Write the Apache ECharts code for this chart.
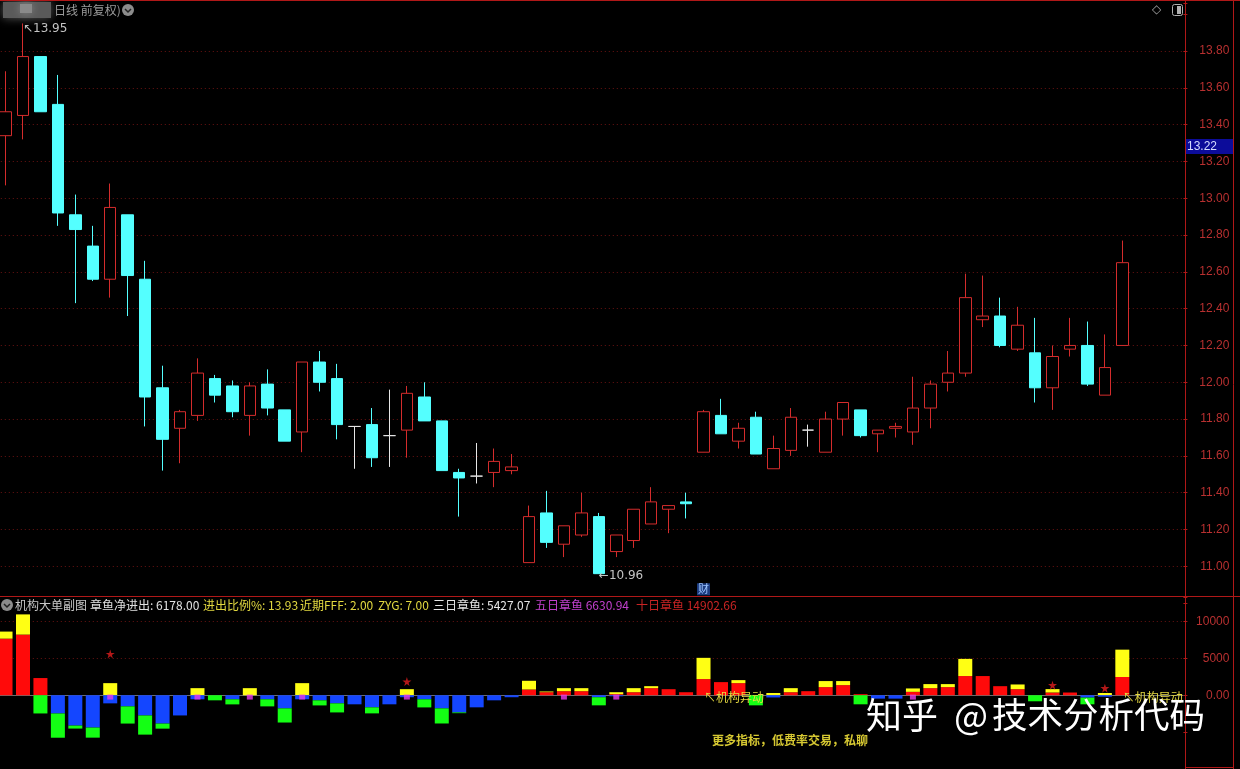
<!DOCTYPE html>
<html><head><meta charset="utf-8">
<script src="https://cdn.jsdelivr.net/npm/echarts@6/dist/echarts.min.js"></script>
<style>html,body{margin:0;padding:0;background:#000;}#c{width:1240px;height:769px;}</style>
</head><body><div id="c"></div>
<script>
const categories = ['1','2','3','4','5','6','7','8','9','10','11','12','13','14','15','16','17','18','19','20',
 '21','22','23','24','25','26','27','28','29','30','31','32','33','34','35','36','37','38','39','40',
 '41','42','43','44','45','46','47','48','49','50','51','52','53','54','55','56','57','58','59','60',
 '61','62','63','64','65','66','67','68'];
const opens  = [13.34,13.45,13.77,13.51,12.91,12.74,12.56,12.91,12.56,11.97,11.75,11.82,12.02,11.98,11.82,11.99,11.85,11.73,12.11,12.02,11.76,11.77,11.71,11.74,11.92,11.79,11.51,11.49,11.51,11.52,11.02,11.29,11.12,11.17,11.27,11.08,11.14,11.23,11.31,11.35,11.62,11.82,11.68,11.81,11.53,11.63,11.74,11.62,11.80,11.85,11.72,11.75,11.73,11.86,12.00,12.05,12.34,12.36,12.18,12.16,11.97,12.18,12.20,11.93,12.20];
const closes = [13.47,13.77,13.47,12.92,12.83,12.56,12.95,12.58,11.92,11.69,11.84,12.05,11.93,11.84,11.98,11.86,11.68,12.11,12.00,11.77,11.76,11.59,11.71,11.94,11.79,11.52,11.48,11.49,11.57,11.54,11.27,11.13,11.22,11.29,10.96,11.17,11.31,11.35,11.33,11.34,11.84,11.72,11.75,11.61,11.64,11.81,11.74,11.80,11.89,11.71,11.74,11.76,11.86,11.99,12.05,12.46,12.36,12.20,12.31,11.97,12.14,12.20,11.99,12.08,12.65];
const lows   = [13.07,13.32,13.47,12.85,12.43,12.55,12.46,12.36,11.76,11.52,11.56,11.79,11.89,11.81,11.71,11.82,11.68,11.62,11.95,11.69,11.53,11.54,11.54,11.59,11.79,11.52,11.27,11.45,11.43,11.50,11.02,11.10,11.05,11.16,10.96,11.05,11.10,11.23,11.18,11.26,11.62,11.72,11.64,11.61,11.53,11.60,11.65,11.62,11.71,11.70,11.62,11.70,11.66,11.75,11.95,12.03,12.30,12.19,12.17,11.89,11.85,12.14,11.98,11.93,12.20];
const highs  = [13.69,13.95,13.77,13.67,13.02,12.85,13.08,12.91,12.66,12.09,11.85,12.13,12.04,12.01,12.00,12.07,11.85,12.11,12.17,12.10,11.76,11.86,11.96,11.98,12.00,11.79,11.53,11.67,11.64,11.61,11.33,11.41,11.22,11.40,11.29,11.17,11.31,11.43,11.33,11.40,11.85,11.91,11.78,11.84,11.71,11.86,11.77,11.84,11.89,11.85,11.74,11.78,12.03,12.01,12.17,12.59,12.58,12.46,12.41,12.35,12.20,12.35,12.33,12.26,12.77];

const redVals = [7670,8220,2330,0,0,0,0,0,0,0, 0,0,0,0,0,0,0,0,0,0, 0,0,0,0,0,0,0,0,0,0,
 780,410,550,550,0,140,410,960,820,410, 2190,1780,1640,0,0,410,550,1100,1370,140,
 0,0,460,960,1100,2600,2600,1230,820,0, 370,370,0,0,2470];
const yellowVals = [960,2740,0,0,0,0,1640,0,0,0, 0,960,0,0,960,0,0,1640,0,0, 0,0,0,820,0,0,0,0,0,0,
 1180,100,410,410,0,270,550,270,0,0, 2880,0,410,0,300,550,0,820,550,0,
 0,0,460,550,410,2330,0,0,640,0, 460,0,0,300,3710];
const blueVals = [0,0,0,-2470,-4110,-4380,-1100,-1510,-2740,-3840, -2740,-550,0,-550,0,-550,-1780,-550,-690,-1100,
 -1230,-1640,-1230,-270,-550,-1780,-2330,-1640,-690,-270, 0,0,0,0,-270,-140,0,0,0,0,
 0,0,0,0,-300,0,0,0,0,0, -460,-460,0,0,0,0,0,0,0,0, 0,0,-320,-200,0];
const greenVals = [0,0,-2470,-3290,-410,-1370,0,-2330,-2600,-690, 0,0,-690,-690,0,-960,-1920,0,-690,-1230,
 0,-820,0,0,-1100,-2050,-100,0,0,0, 0,0,0,0,-1100,0,0,0,0,0,
 0,0,0,-1370,0,0,0,0,0,-1230, 0,0,0,0,0,0,0,0,0,-820, 0,0,-910,0,0];
const starIdx = [6,23,60,63];
const starVals = [5600,1850,1370,960];
const pinkIdx = [6,11,14,17,23,32,35,52];
const pinkVals = [-250,-250,-250,-250,-250,-250,-250,-250];
const alertIdx = [40,64];
const alertVals = [-280,-280];
const priceTicks = [11.00,11.20,11.40,11.60,11.80,12.00,12.20,12.40,12.60,12.80,13.00,13.20,13.40,13.60,13.80];
const subTicks = [5000,10000];
const maxIdx = 1, minIdx = 34, caiIdx = 40;

const RED = '#d42c2c', CYAN = '#54ffff', AXR = '#b83030', FRAME = '#b01818', GRIDC = '#6a1212';
const cjk = '"Noto Sans CJK SC", sans-serif';

const chart = echarts.init(document.getElementById('c'), null, {renderer:'canvas'});
const candleData = opens.map((o,i)=>[o, closes[i], lows[i], highs[i]]);
const STAR = 'path://M50,0 L61,35 L98,35 L68,57 L79,91 L50,70 L21,91 L32,57 L2,35 L39,35 Z';

function txt(x, y, text, fill, size, family, weight) {
  return {type:'text', x:x, y:y, z:70, silent:true, style:{text:text, fill:fill, fontSize:size||12,
    fontFamily:family||cjk, fontWeight:weight||'normal', verticalAlign:'middle', align:'left'}};
}
function ln(x1,y1,x2,y2,c){ return {type:'line', z:60, silent:true, shape:{x1:x1,y1:y1,x2:x2,y2:y2}, style:{stroke:c||FRAME, lineWidth:1}}; }
function icon(cx, cy){
  return [{type:'circle', z:50, shape:{cx:cx, cy:cy, r:6}, style:{fill:'#8c8c8c'}},
          {type:'polyline', z:51, shape:{points:[[cx-3,cy-1],[cx,cy+2],[cx+3,cy-1]]}, style:{stroke:'#222', lineWidth:1.5, fill:null}}];
}

const option = {
  backgroundColor:'#000',
  animation:false,
  grid:[
    {left:-3.2, right:56.6, top:3, bottom:165.9, outerBoundsMode:'none', containLabel:false},
    {left:-3.2, right:56.6, top:597.5, bottom:0, outerBoundsMode:'none', containLabel:false}
  ],
  xAxis:[
    {type:'category', gridIndex:0, data:categories, boundaryGap:true, axisLine:{show:false}, axisTick:{show:false}, axisLabel:{show:false}, splitLine:{show:false}},
    {type:'category', gridIndex:1, data:categories, boundaryGap:true, axisLine:{show:false}, axisTick:{show:false}, axisLabel:{show:false}, splitLine:{show:false}}
  ],
  yAxis:[
    {type:'value', gridIndex:0, position:'right', min:10.8, max:14.061, interval:0.2,
     axisLine:{show:false}, splitLine:{show:false},
     axisTick:{show:true, length:4, lineStyle:{color:FRAME}},
     axisLabel:{color:AXR, fontSize:12, fontFamily:'"Liberation Sans", Arial, sans-serif', align:'right', margin:46,
       formatter:function(v){ return (v > 10.9 && v < 13.9) ? v.toFixed(2) : ''; }}},
    {type:'value', gridIndex:1, position:'right', min:-10000, max:13250, interval:5000,
     axisLine:{show:false}, splitLine:{show:false},
     axisTick:{show:true, length:4, lineStyle:{color:FRAME}},
     axisLabel:{color:AXR, fontSize:12, fontFamily:'"Liberation Sans", Arial, sans-serif', align:'right', margin:46,
       formatter:function(v){ if (Math.abs(v) < 1e-6) return '0.00'; return (v === 5000 || v === 10000) ? String(v) : ''; }}}
  ],
  series:[
    {type:'candlestick', name:'K', xAxisIndex:0, yAxisIndex:0, data:candleData, barWidth:12,
     itemStyle:{color:'#000', color0:CYAN, borderColor:RED, borderColor0:CYAN, borderColorDoji:'#e6e6e6', borderWidth:1},
     markLine:{silent:true, symbol:'none', z:1, label:{show:false},
       lineStyle:{color:GRIDC, type:[1,3], width:1},
       data: priceTicks.map(v=>({yAxis:v}))},
     markPoint:{silent:true, symbol:'circle', symbolSize:0,
       data:[
         {coord:[categories[maxIdx], highs[maxIdx]], value:highs[maxIdx],
          label:{show:true, position:'right', distance:0, offset:[0,5], color:'#c4c4c4', fontSize:12, fontFamily:'"DejaVu Sans", sans-serif',
            formatter:function(p){ return '↖' + p.value.toFixed(2); }}},
         {coord:[categories[minIdx], lows[minIdx]], value:lows[minIdx],
          label:{show:true, position:'right', distance:0, offset:[0,2], color:'#c4c4c4', fontSize:12, fontFamily:'"DejaVu Sans", sans-serif',
            formatter:function(p){ return '←' + p.value.toFixed(2); }}},
         {coord:[categories[caiIdx], 10.875], value:0,
          label:{show:true, position:'inside', color:'#9cc4ff', backgroundColor:'#1c3c80', padding:[1,1,0,1], fontSize:11, fontFamily:cjk,
            formatter:'财'}}
       ]}
    },
    {type:'bar', name:'red', xAxisIndex:1, yAxisIndex:1, stack:'a', data:redVals, barWidth:14, itemStyle:{color:'#ff0a0a'},
     markLine:{silent:true, symbol:'none', z:1, label:{show:false},
       data:[ ...subTicks.map(v=>({yAxis:v, lineStyle:{color:GRIDC, type:[1,3], width:1}})),
              {yAxis:0, lineStyle:{color:'#6e6e6e', type:'solid', width:1}} ]}},
    {type:'bar', name:'yellow', xAxisIndex:1, yAxisIndex:1, stack:'a', data:yellowVals, barWidth:14, itemStyle:{color:'#ffff14'}},
    {type:'bar', name:'blue', xAxisIndex:1, yAxisIndex:1, stack:'a', data:blueVals, barWidth:14, itemStyle:{color:'#1446ff'}},
    {type:'bar', name:'green', xAxisIndex:1, yAxisIndex:1, stack:'a', data:greenVals, barWidth:14, itemStyle:{color:'#14ff14'}},
    {type:'scatter', name:'pink', xAxisIndex:1, yAxisIndex:1, z:5, symbol:'rect', symbolSize:[6,5], itemStyle:{color:'#e83ce8'},
     data: pinkIdx.map((i,k)=>[i, pinkVals[k]])},
    {type:'scatter', name:'star', xAxisIndex:1, yAxisIndex:1, z:5, symbol:STAR, symbolSize:9, itemStyle:{color:'#e01e1e'},
     data: starIdx.map((i,k)=>[i, starVals[k]])},
    {type:'scatter', name:'alert', xAxisIndex:1, yAxisIndex:1, z:20, symbolSize:1, itemStyle:{color:'rgba(0,0,0,0)'},
     label:{show:true, position:'right', distance:0, color:'#e6da40', textBorderWidth:0, opacity:1, fontSize:12, fontFamily:cjk, formatter:'↖机构异动'},
     labelLayout:{hideOverlap:false},
     data: alertIdx.map((i,k)=>[i, alertVals[k]])}
  ],
  graphic:{elements:[
    ln(0,0.5,1240,0.5), ln(0,596.5,1240,596.5), ln(1185.5,0,1185.5,769), ln(1233.5,0,1233.5,769), ln(1185,767.5,1234,767.5),
    {type:'rect', z:40, silent:true, shape:{x:3,y:2,width:48,height:16}, style:{fill:'#5a5a5a', shadowBlur:10, shadowColor:'#5a5a5a'}},
    {type:'rect', z:41, silent:true, shape:{x:20,y:4,width:12,height:9}, style:{fill:'#8a8a8a', shadowBlur:8, shadowColor:'#8a8a8a'}},
    txt(54, 10, '日线 前复权)', '#9c9c9c', 12),
    ...icon(128, 10),
    txt(1152, 10, '◇', '#a0a0a0', 12, '"DejaVu Sans", sans-serif'),
    {type:'rect', z:50, silent:true, shape:{x:1172.5,y:4.5,width:10,height:11,r:2}, style:{fill:null, stroke:'#b0b0b0', lineWidth:1}},
    {type:'rect', z:50, silent:true, shape:{x:1177,y:6,width:4,height:8}, style:{fill:'#b0b0b0'}},
    {type:'rect', z:55, silent:true, shape:{x:1186,y:139,width:47,height:15}, style:{fill:'#0c0c9a'}},
    txt(1187, 147, '13.22', '#d4dcff', 12, '"Liberation Sans", Arial, sans-serif'),
    ...icon(7, 605),
    txt(15, 605, '机构大单副图', '#c8c8c8', 12),
    txt(90, 605, '章鱼净进出: 6178.00', '#e0e0e0', 12),
    txt(203, 605, '进出比例%: 13.93', '#e2d840', 12),
    txt(300, 605, '近期FFF: 2.00', '#e2d840', 12),
    txt(378, 605, 'ZYG: 7.00', '#e2d840', 12),
    txt(433, 605, '三日章鱼: 5427.07', '#e6e6e6', 12),
    txt(535, 605, '五日章鱼 6630.94', '#c040cc', 12),
    txt(636, 605, '十日章鱼 14902.66', '#c82424', 12),
    txt(712, 740, '更多指标，低费率交易，私聊', '#d6c832', 12, cjk, 'bold'),
    txt(866, 715, '知乎', '#ffffff', 36),
    txt(954, 715, '@', '#ffffff', 36),
    txt(992, 715, '技术分析代码', '#ffffff', 35.5)
  ]}
};
chart.setOption(option);
</script>
</body></html>
